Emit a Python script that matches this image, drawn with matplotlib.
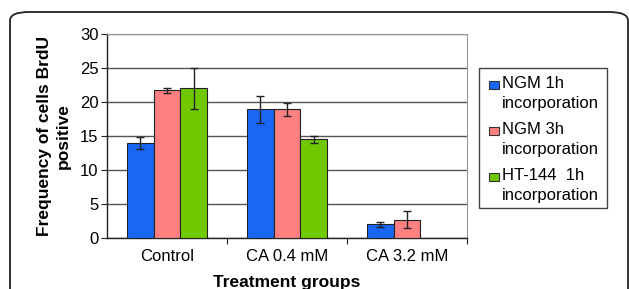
import numpy as np
import matplotlib
matplotlib.use("Agg")
import matplotlib.pyplot as plt
from matplotlib.patches import FancyBboxPatch, Rectangle

plt.rcParams['font.family'] = ['Liberation Sans', 'DejaVu Sans']

# --- данные ---
groups = ['Control', 'CA 0.4 mM', 'CA 3.2 mM']
series = ['NGM 1h\nincorporation', 'NGM 3h\nincorporation', 'HT-144  1h\nincorporation']
ngm_1h = [14.0, 18.9, 2.0]
ngm_1h_err = [0.9, 2.0, 0.4]
ngm_3h = [21.7, 18.9, 2.7]
ngm_3h_err = [0.4, 1.0, 1.2]
ht144_1h = [22.0, 14.5, 0.0]
ht144_1h_err = [3.0, 0.5, 0.0]

colors = ['#1a66f5', '#ff8080', '#70c800']

W, H = 629, 289
fig = plt.figure(figsize=(W / 100, H / 100), dpi=100)


def fx(px):
    return px / W


def fy(py):
    # пиксели сверху -> доли фигуры снизу
    return 1 - py / H


# рамка со скруглёнными углами
frame = FancyBboxPatch((fx(10), -30 / H), fx(618), (H - 12 + 30) / H,
                       boxstyle="round,pad=0,rounding_size=0.03",
                       transform=fig.transFigure, fill=False,
                       edgecolor='#222222', linewidth=1.3, clip_on=False)
fig.patches.append(frame)

ax = fig.add_axes([fx(107), 51 / H, fx(360), 204 / H])

x = np.arange(len(groups))
bw = 0.222
vals = [ngm_1h, ngm_3h, ht144_1h]
errs = [ngm_1h_err, ngm_3h_err, ht144_1h_err]
for i in range(3):
    v = np.array(vals[i])
    e = np.array(errs[i])
    mask = v > 0
    ax.bar(x[mask] + (i - 1) * bw, v[mask], bw, color=colors[i],
           edgecolor='#222222', linewidth=0.8, zorder=3)
    ax.errorbar(x[mask] + (i - 1) * bw, v[mask], yerr=e[mask], fmt='none',
                ecolor='#222222', elinewidth=1.0, capsize=3, capthick=1.0, zorder=4)

ax.set_xlim(-0.5, 2.5)
ax.set_ylim(0, 30)
ax.set_yticks(range(0, 31, 5))
ax.yaxis.grid(True, color='#555555', linewidth=1.0, zorder=0)
ax.set_axisbelow(True)

ax.set_xticks([0.5, 1.5, 2.5])
ax.set_xticklabels([])
ax.set_xticks(x, minor=True)
ax.set_xticklabels(groups, minor=True, fontsize=12)
ax.tick_params(axis='x', which='minor', length=0, pad=8)
ax.tick_params(axis='x', which='major', length=4, color='#222222', direction='out')
ax.tick_params(axis='y', labelsize=12, length=4, color='#222222', pad=2)

for s in ['top', 'right']:
    ax.spines[s].set_color('#999999')
for s in ['left', 'bottom']:
    ax.spines[s].set_color('#222222')
    ax.spines[s].set_linewidth(1.0)

ax.set_ylabel('Frequency of cells BrdU\npositive', fontsize=12.5, fontweight='bold',
              linespacing=1.3, labelpad=7)
ax.set_xlabel('Treatment groups', fontsize=12.5, fontweight='bold', labelpad=8)

# легенда: квадрат у первой строки, вторая строка с отступом
fig.patches.append(Rectangle((fx(479), fy(208)), fx(128), (208 - 68) / H,
                             transform=fig.transFigure, fill=False,
                             edgecolor='#444444', linewidth=1.0))
for i, lab in enumerate(series):
    y0 = 85 + i * 46
    fig.patches.append(Rectangle((fx(489), fy(y0 + 4)), fx(10), 8 / H,
                                 transform=fig.transFigure, facecolor=colors[i],
                                 edgecolor='#333333', linewidth=0.8))
    fig.text(fx(502), fy(y0 - 9), lab, fontsize=12, va='top', ha='left',
             linespacing=1.4)

fig.savefig('out.png', dpi=100)
